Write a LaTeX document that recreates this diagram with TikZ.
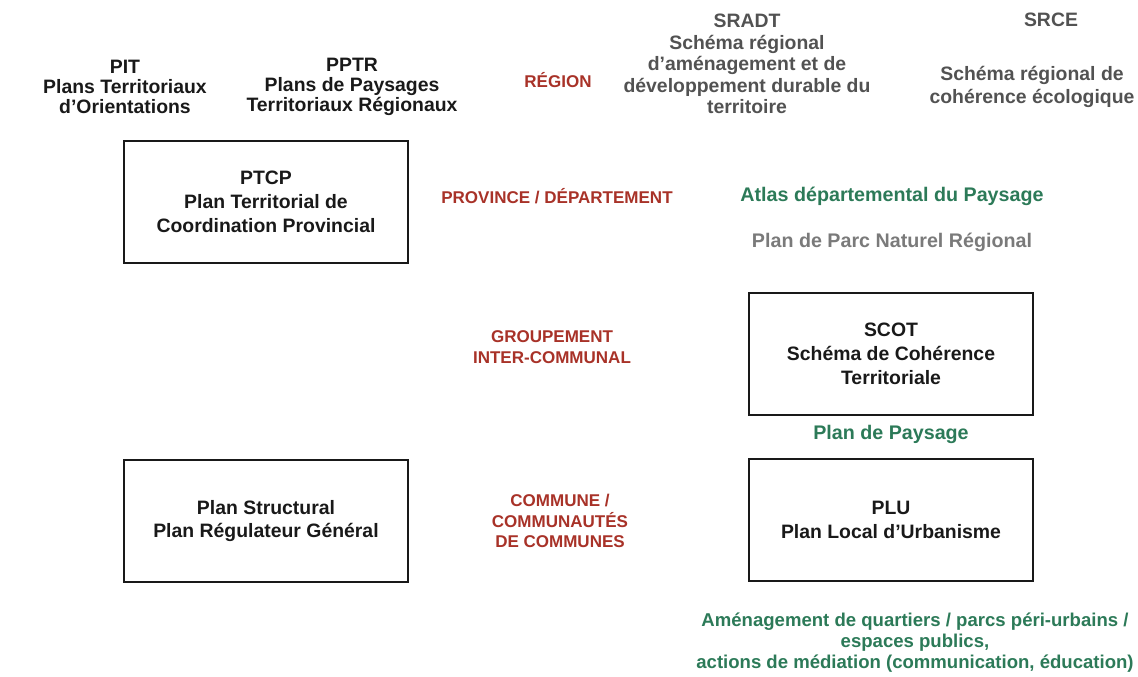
\documentclass[tikz,border=0pt]{standalone}
\usepackage{fontspec}
\setmainfont{Liberation Sans}
\usepackage{tikz}
\usepackage{xcolor}
\definecolor{ColLevel}{RGB}{168,50,40}
\definecolor{ColPaysage}{RGB}{44,122,88}
\definecolor{ColRegion}{RGB}{82,82,82}
\definecolor{ColParc}{RGB}{122,122,122}
\definecolor{ColPlan}{RGB}{25,25,25}
\tikzstyle{TextPlan}=[align=center,inner sep=0pt,text=ColPlan,
font=\bfseries\fontsize{13.8}{14.2}\selectfont]
\tikzstyle{BoxPlan}=[TextPlan,draw=ColPlan,line width=2pt,minimum width=7.1cm,
minimum height=3.05cm,font=\bfseries\fontsize{13.8}{17}\selectfont]
\tikzstyle{LevelLabel}=[TextPlan,text=ColLevel,font=\bfseries\fontsize{12.1}{14.6}\selectfont]
\tikzstyle{PaysageLabel}=[TextPlan,text=ColPaysage,font=\bfseries\fontsize{14}{15}\selectfont]
\tikzstyle{RegionLabel}=[TextPlan,text=ColRegion,font=\bfseries\fontsize{13.8}{15.2}\selectfont]

\begin{document}
\begin{tikzpicture}[x=0.025cm,y=-0.025cm]
        \useasboundingbox(0,0)rectangle(1138,677);
        % region
        \node[TextPlan](pit)at(125,87){PIT\\Plans Territoriaux\\d’Orientations};
        \node[TextPlan](pptr)at(352,87){PPTR\\Plans de Paysages\\Territoriaux Régionaux};
        \node[LevelLabel](region)at(558,80){RÉGION};
        \node[RegionLabel](sradt)at(747,64){SRADT\\Schéma régional\\d’aménagement et de\\développement durable du\\territoire};
        \node[RegionLabel](srce)at(1051,20){SRCE};
        \node[RegionLabel,font=\bfseries\fontsize{13.8}{16.4}\selectfont](srcetxt)at(1032,87){Schéma régional de\\cohérence écologique};
        % province
        \node[BoxPlan](ptcp)at(266,202){PTCP\\Plan Territorial de\\Coordination Provincial};
        \node[LevelLabel](province)at(557,196){PROVINCE / DÉPARTEMENT};
        \node[PaysageLabel](atlas)at(892,196){Atlas départemental du Paysage};
        \node[TextPlan,text=ColParc,font=\bfseries\fontsize{14}{15}\selectfont](parc)at(892,242){Plan de Parc Naturel Régional};
        % intercommunal
        \node[LevelLabel](groupement)at(552,347){GROUPEMENT\\INTER-COMMUNAL};
        \node[BoxPlan](scot)at(891,354){SCOT\\Schéma de Cohérence\\Territoriale};
        \node[PaysageLabel](paysage)at(891,434){Plan de Paysage};
        % commune
        \node[BoxPlan](structural)at(266,521){Plan Structural\\Plan Régulateur Général};
        \node[LevelLabel](commune)at(560,521){COMMUNE /\\COMMUNAUTÉS\\DE COMMUNES};
        \node[BoxPlan](plu)at(891,520){PLU\\Plan Local d’Urbanisme};
        \node[PaysageLabel,font=\bfseries\fontsize{13.2}{15}\selectfont](amenagement)at(915,643){Aménagement de quartiers / parcs péri-urbains /\\espaces publics,\\actions de médiation (communication, éducation)};
\end{tikzpicture}
\end{document}
